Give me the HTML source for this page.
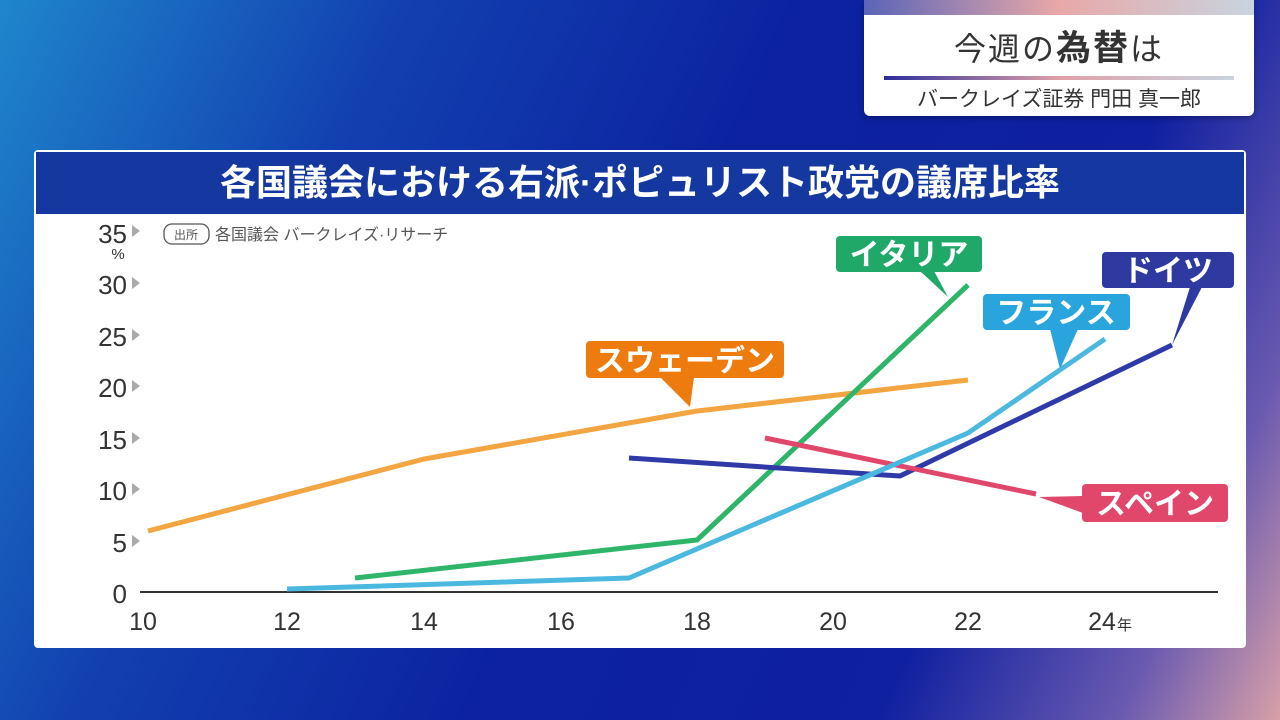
<!DOCTYPE html><html><head><meta charset="utf-8"><style>
body{margin:0;width:1280px;height:720px;overflow:hidden;font-family:"Liberation Sans","Noto Sans CJK JP",sans-serif;
background:linear-gradient(115deg,#1f86cc 0%,#1240b0 25%,#0c22a0 50%,#0f20a0 75%,#6a5ab0 90%,#d8a0a8 100%);position:relative}
.top{position:absolute;left:864px;top:0;width:390px;height:116px;background:#fff;border-radius:0 0 6px 6px;box-shadow:0 2px 6px rgba(0,0,0,.3)}
.top .bar{height:15px;background:linear-gradient(90deg,#5a64b8,#e8a8a8,#c8d4e0)}
.t1{text-align:center;font-size:32px;color:#333;margin-top:12px;letter-spacing:2px;line-height:44px;height:44px}
.t1 b{font-size:35px}
.ln{margin:5px 20px 0;height:4px;background:linear-gradient(90deg,#2c2f9a,#e0a0a8,#c8d4e0)}
.t2{text-align:center;font-size:21px;color:#333;margin-top:5px;line-height:30px}
.panel{position:absolute;left:34px;top:150px;width:1212px;height:498px;background:#fff;border-radius:4px}
.hd{position:absolute;left:2px;top:2px;width:1208px;height:62px;background:#1538a0;color:#fff;font-size:36px;text-align:center;line-height:62px;font-weight:bold}
svg{position:absolute;left:0;top:0}
</style></head><body>
<div class="top"><div class="bar"></div><div class="t1">今週の<b>為替</b>は</div><div class="ln"></div><div class="t2">バークレイズ証券 門田 真一郎</div></div>
<div class="panel"><div class="hd">各国議会における右派·ポピュリスト政党の議席比率</div></div>
<svg width="1280" height="720" font-family="Liberation Sans, Noto Sans CJK JP, sans-serif">
<g font-size="26" fill="#333" text-anchor="end">
<text x="127" y="243">35</text><text x="127" y="294">30</text><text x="127" y="346">25</text><text x="127" y="397">20</text><text x="127" y="449">15</text><text x="127" y="500">10</text><text x="127" y="552">5</text><text x="127" y="603">0</text>
</g>
<text x="118" y="259" font-size="15" fill="#333" text-anchor="middle">%</text>
<g fill="#aaa"><path d="M132,225l8,6l-8,6z"/><path d="M132,277l8,6l-8,6z"/><path d="M132,329l8,6l-8,6z"/><path d="M132,380l8,6l-8,6z"/><path d="M132,432l8,6l-8,6z"/><path d="M132,483l8,6l-8,6z"/><path d="M132,535l8,6l-8,6z"/></g>
<rect x="164" y="224" width="45" height="20" rx="8" fill="none" stroke="#555" stroke-width="1.3"/>
<text x="186" y="239" font-size="12" fill="#555" text-anchor="middle">出所</text>
<text x="215" y="240" font-size="16" fill="#555">各国議会 バークレイズ·リサーチ</text>
<line x1="140" y1="592" x2="1218" y2="592" stroke="#333" stroke-width="2"/>
<g font-size="25" fill="#333" text-anchor="middle">
<text x="143" y="630">10</text><text x="287" y="630">12</text><text x="424" y="630">14</text><text x="561" y="630">16</text><text x="697" y="630">18</text><text x="833" y="630">20</text><text x="968" y="630">22</text><text x="1102" y="630">24</text></g>
<text x="1117" y="630" font-size="15" fill="#333">年</text>
<g fill="none" stroke-width="5" stroke-linejoin="round">
<polyline stroke="#f2a540" points="148,531 424,459 697,411 968,380"/>
<polyline stroke="#2eb56a" points="355,578 697,540 968,285"/>
<polyline stroke="#2f3aa8" points="629,458 900,476 1172,345"/>
<polyline stroke="#e0476a" points="765,438 1036,494"/>
<polyline stroke="#4bb8e0" points="287,589 629,578 968,433 1105,339"/>
</g>
<g font-size="30" fill="#fff" font-weight="bold" text-anchor="middle">
<rect x="836" y="236" width="146" height="36" rx="4" fill="#1fa868"/><path d="M920,271l28,26l-14,-26z" fill="#1fa868"/><text x="909" y="265">イタリア</text>
<rect x="983" y="294" width="147" height="36" rx="4" fill="#2aa4dc"/><path d="M1050,329l10,40l18,-40z" fill="#2aa4dc"/><text x="1056" y="323">フランス</text>
<rect x="1102" y="252" width="132" height="36" rx="4" fill="#2e3a9f"/><path d="M1190,287l-18,58l30,-58z" fill="#2e3a9f"/><text x="1168" y="281">ドイツ</text>
<rect x="586" y="341" width="198" height="37" rx="4" fill="#ee7b0e"/><path d="M660,377l30,30l4,-30z" fill="#ee7b0e"/><text x="685" y="371">スウェーデン</text>
<rect x="1082" y="484" width="146" height="38" rx="4" fill="#e0476a"/><path d="M1083,496l-44,1l44,16z" fill="#e0476a"/><text x="1155" y="514">スペイン</text>
</g>
</svg>
</body></html>
